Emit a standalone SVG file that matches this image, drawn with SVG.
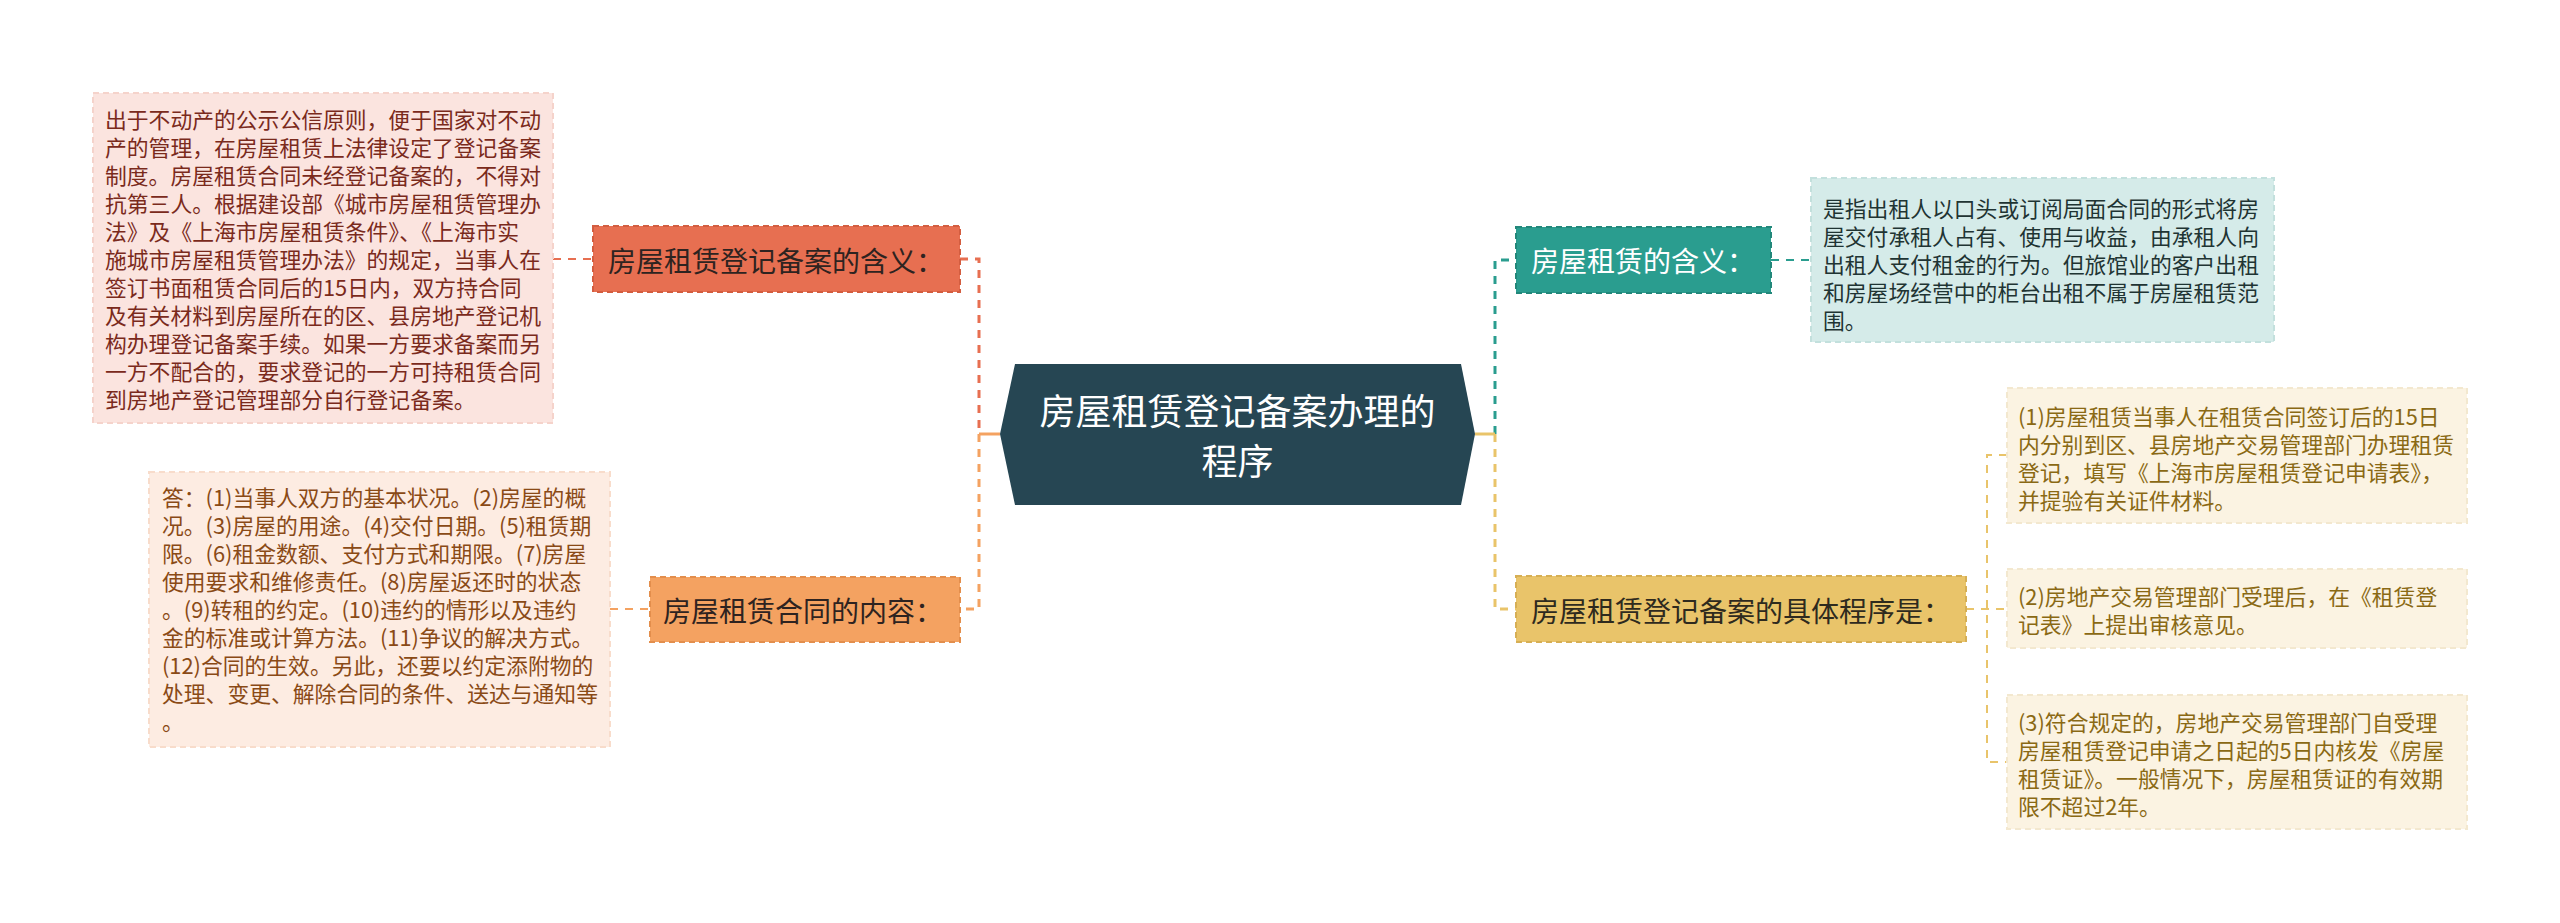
<svg xmlns="http://www.w3.org/2000/svg" width="2560" height="923" viewBox="0 0 2560 923">
<style>
text{font-family:"Noto Sans CJK SC","Microsoft YaHei",sans-serif;}
.leaf{font-size:21.8px;}
.main{font-size:28px;}
.conn{fill:none;stroke-width:3;stroke-dasharray:8 7;}
.lconn{fill:none;stroke-width:2;stroke-dasharray:8 7;}
</style>
<rect width="2560" height="923" fill="#ffffff"/>
<g id="connectors">
<path class="conn" d="M960,259 H979 V434" stroke="#e76f51"/>
<path class="conn" d="M979,434 V609 H960" stroke="#f4a261"/>
<path d="M979,434 H1000" stroke="#f4a261" stroke-width="3" fill="none"/>
<path class="conn" d="M1495,434 V260 H1516" stroke="#2a9d8f"/>
<path class="conn" d="M1495,434 V609 H1516" stroke="#e9c46a"/>
<path d="M1475,434 H1495" stroke="#e9c46a" stroke-width="3" fill="none"/>
<path class="lconn" d="M553,259 H593" stroke="#e76f51"/>
<path class="lconn" d="M610,609 H650" stroke="#f4a261"/>
<path class="lconn" d="M1771,260 H1811" stroke="#2a9d8f"/>
<path class="lconn" d="M1966,609 H2007" stroke="#e9c46a"/>
<path class="lconn" d="M2007,455 H1987 V762 H2007" stroke="#e9c46a"/>
</g>
<g id="center">
<polygon points="1000,434 1015,364 1461,364 1475,434 1461,505 1015,505" fill="#264653"/>
<text x="1237.5" y="425" font-size="36" fill="#ffffff" text-anchor="middle">房屋租赁登记备案办理的</text>
<text x="1237.5" y="475" font-size="36" fill="#ffffff" text-anchor="middle">程序</text>
</g>
<g id="node-red">
<rect x="593" y="226" width="367" height="66" fill="#e76f51" stroke="#d35d40" stroke-width="2" stroke-dasharray="6 4"/>
<text class="main" x="608" y="272" fill="#2e2320">房屋租赁登记备案的含义：</text>
</g>
<g id="leaf-red">
<rect x="93" y="93" width="460" height="330" fill="#fbe4df" stroke="#f5d3cb" stroke-width="2" stroke-dasharray="6 4"/>
<text class="leaf" fill="#7a2a1c">
<tspan x="105" y="128">出于不动产的公示公信原则，便于国家对不动</tspan>
<tspan x="105" y="156">产的管理，在房屋租赁上法律设定了登记备案</tspan>
<tspan x="105" y="184">制度。房屋租赁合同未经登记备案的，不得对</tspan>
<tspan x="105" y="212">抗第三人。根据建设部《城市房屋租赁管理办</tspan>
<tspan x="105" y="240">法》及《上海市房屋租赁条件》、《上海市实</tspan>
<tspan x="105" y="268">施城市房屋租赁管理办法》的规定，当事人在</tspan>
<tspan x="105" y="296">签订书面租赁合同后的15日内，双方持合同</tspan>
<tspan x="105" y="324">及有关材料到房屋所在的区、县房地产登记机</tspan>
<tspan x="105" y="352">构办理登记备案手续。如果一方要求备案而另</tspan>
<tspan x="105" y="380">一方不配合的，要求登记的一方可持租赁合同</tspan>
<tspan x="105" y="408">到房地产登记管理部分自行登记备案。</tspan>
</text>
</g>
<g id="node-orange">
<rect x="650" y="577" width="310" height="65" fill="#f4a261" stroke="#e38e4c" stroke-width="2" stroke-dasharray="6 4"/>
<text class="main" x="663" y="622" fill="#2e2320">房屋租赁合同的内容：</text>
</g>
<g id="leaf-orange">
<rect x="149" y="472" width="461" height="275" fill="#fdece2" stroke="#f8dccb" stroke-width="2" stroke-dasharray="6 4"/>
<text class="leaf" fill="#8a4a16">
<tspan x="162" y="506">答：(1)当事人双方的基本状况。(2)房屋的概</tspan>
<tspan x="162" y="534">况。(3)房屋的用途。(4)交付日期。(5)租赁期</tspan>
<tspan x="162" y="562">限。(6)租金数额、支付方式和期限。(7)房屋</tspan>
<tspan x="162" y="590">使用要求和维修责任。(8)房屋返还时的状态</tspan>
<tspan x="162" y="618">。(9)转租的约定。(10)违约的情形以及违约</tspan>
<tspan x="162" y="646">金的标准或计算方法。(11)争议的解决方式。</tspan>
<tspan x="162" y="674">(12)合同的生效。另此，还要以约定添附物的</tspan>
<tspan x="162" y="702">处理、变更、解除合同的条件、送达与通知等</tspan>
<tspan x="162" y="730">。</tspan>
</text>
</g>
<g id="node-teal">
<rect x="1516" y="227" width="255" height="66" fill="#2a9d8f" stroke="#22877a" stroke-width="2" stroke-dasharray="6 4"/>
<text class="main" x="1531" y="272" fill="#ffffff">房屋租赁的含义：</text>
</g>
<g id="leaf-teal">
<rect x="1811" y="178" width="463" height="164" fill="#d5ebe9" stroke="#c3e0dd" stroke-width="2" stroke-dasharray="6 4"/>
<text class="leaf" fill="#1f3433">
<tspan x="1823" y="217">是指出租人以口头或订阅局面合同的形式将房</tspan>
<tspan x="1823" y="245">屋交付承租人占有、使用与收益，由承租人向</tspan>
<tspan x="1823" y="273">出租人支付租金的行为。但旅馆业的客户出租</tspan>
<tspan x="1823" y="301">和房屋场经营中的柜台出租不属于房屋租赁范</tspan>
<tspan x="1823" y="329">围。</tspan>
</text>
</g>
<g id="node-yellow">
<rect x="1516" y="576" width="450" height="66" fill="#e9c46a" stroke="#d6af55" stroke-width="2" stroke-dasharray="6 4"/>
<text class="main" x="1531" y="622" fill="#2e2a1e">房屋租赁登记备案的具体程序是：</text>
</g>
<g id="leaf-y1">
<rect x="2007" y="388" width="460" height="135" fill="#fbf3e2" stroke="#f3e8cf" stroke-width="2" stroke-dasharray="6 4"/>
<text class="leaf" fill="#8a6914">
<tspan x="2018" y="425">(1)房屋租赁当事人在租赁合同签订后的15日</tspan>
<tspan x="2018" y="453">内分别到区、县房地产交易管理部门办理租赁</tspan>
<tspan x="2018" y="481">登记，填写《上海市房屋租赁登记申请表》，</tspan>
<tspan x="2018" y="509">并提验有关证件材料。</tspan>
</text>
</g>
<g id="leaf-y2">
<rect x="2007" y="569" width="460" height="79" fill="#fbf3e2" stroke="#f3e8cf" stroke-width="2" stroke-dasharray="6 4"/>
<text class="leaf" fill="#8a6914">
<tspan x="2018" y="605">(2)房地产交易管理部门受理后，在《租赁登</tspan>
<tspan x="2018" y="633">记表》上提出审核意见。</tspan>
</text>
</g>
<g id="leaf-y3">
<rect x="2007" y="695" width="460" height="134" fill="#fbf3e2" stroke="#f3e8cf" stroke-width="2" stroke-dasharray="6 4"/>
<text class="leaf" fill="#8a6914">
<tspan x="2018" y="731">(3)符合规定的，房地产交易管理部门自受理</tspan>
<tspan x="2018" y="759">房屋租赁登记申请之日起的5日内核发《房屋</tspan>
<tspan x="2018" y="787">租赁证》。一般情况下，房屋租赁证的有效期</tspan>
<tspan x="2018" y="815">限不超过2年。</tspan>
</text>
</g>
</svg>
